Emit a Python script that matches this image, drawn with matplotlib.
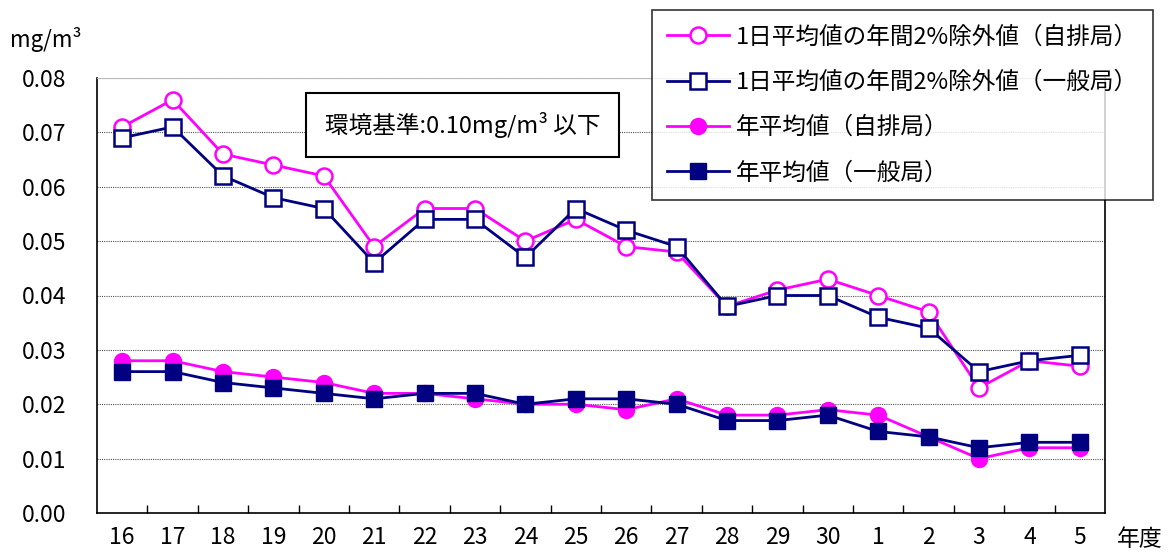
import numpy as np
import matplotlib.pyplot as plt

plt.rcParams['font.family'] = ['Noto Sans CJK JP', 'DejaVu Sans']

# --- データ ---
years = ['16', '17', '18', '19', '20', '21', '22', '23', '24', '25',
         '26', '27', '28', '29', '30', '1', '2', '3', '4', '5']
p98_jihai = [0.071, 0.076, 0.066, 0.064, 0.062, 0.049, 0.056, 0.056, 0.050, 0.054,
             0.049, 0.048, 0.038, 0.041, 0.043, 0.040, 0.037, 0.023, 0.028, 0.027]
p98_ippan = [0.069, 0.071, 0.062, 0.058, 0.056, 0.046, 0.054, 0.054, 0.047, 0.056,
             0.052, 0.049, 0.038, 0.040, 0.040, 0.036, 0.034, 0.026, 0.028, 0.029]
mean_jihai = [0.028, 0.028, 0.026, 0.025, 0.024, 0.022, 0.022, 0.021, 0.020, 0.020,
              0.019, 0.021, 0.018, 0.018, 0.019, 0.018, 0.014, 0.010, 0.012, 0.012]
mean_ippan = [0.026, 0.026, 0.024, 0.023, 0.022, 0.021, 0.022, 0.022, 0.020, 0.021,
              0.021, 0.020, 0.017, 0.017, 0.018, 0.015, 0.014, 0.012, 0.013, 0.013]
yticks = [0.00, 0.01, 0.02, 0.03, 0.04, 0.05, 0.06, 0.07, 0.08]

PINK = '#FF00FF'
NAVY = '#000080'

fig = plt.figure(figsize=(11.75, 5.54), dpi=100)
ax = fig.add_axes([97 / 1175, 41 / 554, 1008 / 1175, 435 / 554])

x = np.arange(len(years))
ms = 11.5
lw = 2.0
ax.plot(x, p98_jihai, '-o', color=PINK, lw=lw, ms=ms, mfc='white', mec=PINK, mew=1.8,
        label='1日平均値の年間2%除外値（自排局）', zorder=3)
ax.plot(x, p98_ippan, '-s', color=NAVY, lw=lw, ms=ms, mfc='white', mec=NAVY, mew=1.8,
        label='1日平均値の年間2%除外値（一般局）', zorder=4)
ax.plot(x, mean_jihai, '-o', color=PINK, lw=lw, ms=ms, mfc=PINK, mec=PINK,
        label='年平均値（自排局）', zorder=3)
ax.plot(x, mean_ippan, '-s', color=NAVY, lw=lw, ms=ms, mfc=NAVY, mec=NAVY,
        label='年平均値（一般局）', zorder=4)

ax.set_xlim(-0.5, len(years) - 0.5)
ax.set_ylim(0, 0.08)
ax.set_yticks(yticks)
ax.set_yticklabels([f'{v:.2f}' for v in yticks], fontsize=16.5)
ax.set_xticks(x)
ax.set_xticklabels(years, fontsize=16.5)
ax.set_xticks(np.arange(0.5, len(years) - 1, 1), minor=True)
ax.tick_params(axis='x', which='major', length=0, pad=9)
ax.tick_params(axis='x', which='minor', direction='in', length=6, width=1)
ax.tick_params(axis='y', length=0, pad=22)
ax.grid(axis='y', color='#555555', ls=(0, (1, 1)), lw=0.8)
ax.set_axisbelow(True)
for s in ax.spines.values():
    s.set_linewidth(1.2)
ax.spines['top'].set_color('#bbbbbb')
ax.spines['top'].set_linewidth(0.8)

fig.text(10 / 1175, 1 - 40 / 554, 'mg/m³', fontsize=16, va='center')
fig.text(1117 / 1175, 1 - 540 / 554, '年度', fontsize=16.5, va='center')

ax.text(0.226, 0.892, '環境基準:0.10mg/m³ 以下', transform=ax.transAxes, fontsize=17,
        va='center', ha='left',
        bbox=dict(boxstyle='square,pad=0.8', fc='white', ec='black', lw=1.5), zorder=5)

leg = fig.legend(loc='upper left', bbox_to_anchor=(652 / 1175, 1 - 10 / 554),
                 fontsize=17, frameon=True, fancybox=False, edgecolor='black',
                 handlelength=2.6, labelspacing=0.95, borderpad=0.65, handletextpad=0.3,
                 borderaxespad=0)
leg.get_frame().set_linewidth(1.2)

plt.savefig('out.png', dpi=100)
